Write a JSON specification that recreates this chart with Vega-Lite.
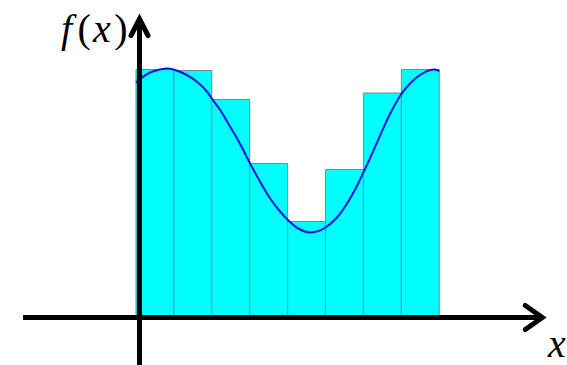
{
  "$schema": "https://vega.github.io/schema/vega-lite/v6.json",
  "width": 567,
  "height": 365,
  "autosize": "none",
  "padding": 0,
  "background": "white",
  "config": {"view": {"stroke": null}},
  "datasets": {
    "bars": [
      {"a": 0, "b": 1, "h": 4.96},
      {"a": 1, "b": 2, "h": 4.94},
      {"a": 2, "b": 3, "h": 4.36},
      {"a": 3, "b": 4, "h": 3.08},
      {"a": 4, "b": 5, "h": 1.92},
      {"a": 5, "b": 6, "h": 2.96},
      {"a": 6, "b": 7, "h": 4.49},
      {"a": 7, "b": 8, "h": 4.96}
    ],
    "curve": [
      {"x": 0, "y": 4.70}, {"x": 0.16, "y": 4.80}, {"x": 0.37, "y": 4.90}, {"x": 0.63, "y": 4.96},
      {"x": 0.84, "y": 4.98}, {"x": 1.07, "y": 4.94}, {"x": 1.34, "y": 4.85}, {"x": 1.60, "y": 4.72},
      {"x": 1.87, "y": 4.52}, {"x": 2.0, "y": 4.38}, {"x": 2.22, "y": 4.15}, {"x": 2.48, "y": 3.82},
      {"x": 2.74, "y": 3.48}, {"x": 3.01, "y": 3.08}, {"x": 3.27, "y": 2.72}, {"x": 3.54, "y": 2.38},
      {"x": 3.80, "y": 2.12}, {"x": 4.02, "y": 1.94}, {"x": 4.28, "y": 1.78}, {"x": 4.59, "y": 1.70},
      {"x": 4.85, "y": 1.74}, {"x": 5.0, "y": 1.80}, {"x": 5.29, "y": 1.99}, {"x": 5.56, "y": 2.27},
      {"x": 5.82, "y": 2.62}, {"x": 6.01, "y": 2.92}, {"x": 6.17, "y": 3.18}, {"x": 6.44, "y": 3.64},
      {"x": 6.70, "y": 4.07}, {"x": 7.01, "y": 4.48}, {"x": 7.23, "y": 4.68}, {"x": 7.49, "y": 4.85},
      {"x": 7.76, "y": 4.95}, {"x": 7.89, "y": 4.96}, {"x": 8.0, "y": 4.93}
    ],
    "axes": [
      {"x": -2.98, "x2": 10.72, "y": 0, "y2": 0},
      {"x": 0.092, "x2": 0.092, "y": -0.95, "y2": 5.97}
    ],
    "heads": [
      {"g": "h", "o": 1, "x": 10.27, "y": 0.24},
      {"g": "h", "o": 2, "x": 10.72, "y": 0},
      {"g": "h", "o": 3, "x": 10.27, "y": -0.24},
      {"g": "v", "o": 1, "x": -0.132, "y": 5.64},
      {"g": "v", "o": 2, "x": 0.092, "y": 5.97},
      {"g": "v", "o": 3, "x": 0.316, "y": 5.64}
    ],
    "italic": [
      {"t": "f", "x": -1.83, "y": 5.51},
      {"t": "x", "x": -0.90, "y": 5.51},
      {"t": "x", "x": 11.1, "y": -0.78}
    ],
    "upright": [
      {"t": "(", "x": -1.37, "y": 5.51},
      {"t": ")", "x": -0.40, "y": 5.51}
    ]
  },
  "layer": [
    {
      "data": {"name": "bars"},
      "mark": {"type": "rect", "fill": "#00ffff", "stroke": "#6f8f8f", "strokeWidth": 1},
      "encoding": {
        "x": {"field": "a", "type": "quantitative", "axis": null, "scale": {"domain": [-3.588, 11.37], "nice": false, "zero": false}},
        "x2": {"field": "b"},
        "y": {"field": "h", "type": "quantitative", "axis": null, "scale": {"domain": [-0.95, 6.35], "nice": false, "zero": false}},
        "y2": {"datum": 0}
      }
    },
    {
      "data": {"name": "curve"},
      "mark": {"type": "line", "color": "#1212e6", "strokeWidth": 2, "interpolate": "catmull-rom"},
      "encoding": {
        "x": {"field": "x", "type": "quantitative", "axis": null},
        "y": {"field": "y", "type": "quantitative", "axis": null}
      }
    },
    {
      "data": {"name": "axes"},
      "mark": {"type": "rule", "color": "black", "strokeWidth": 5, "strokeCap": "butt"},
      "encoding": {
        "x": {"field": "x", "type": "quantitative", "axis": null},
        "x2": {"field": "x2"},
        "y": {"field": "y", "type": "quantitative", "axis": null},
        "y2": {"field": "y2"}
      }
    },
    {
      "data": {"name": "heads"},
      "mark": {"type": "line", "color": "black", "strokeWidth": 5, "strokeCap": "round", "strokeJoin": "miter"},
      "encoding": {
        "x": {"field": "x", "type": "quantitative", "axis": null},
        "y": {"field": "y", "type": "quantitative", "axis": null},
        "detail": {"field": "g"},
        "order": {"field": "o"}
      }
    },
    {
      "data": {"name": "italic"},
      "mark": {"type": "text", "font": "Liberation Serif", "fontStyle": "italic", "fontSize": 40, "align": "center", "baseline": "alphabetic", "color": "black"},
      "encoding": {
        "x": {"field": "x", "type": "quantitative", "axis": null},
        "y": {"field": "y", "type": "quantitative", "axis": null},
        "text": {"field": "t"}
      }
    },
    {
      "data": {"name": "upright"},
      "mark": {"type": "text", "font": "Liberation Serif", "fontSize": 40, "align": "center", "baseline": "alphabetic", "color": "black"},
      "encoding": {
        "x": {"field": "x", "type": "quantitative", "axis": null},
        "y": {"field": "y", "type": "quantitative", "axis": null},
        "text": {"field": "t"}
      }
    }
  ]
}
